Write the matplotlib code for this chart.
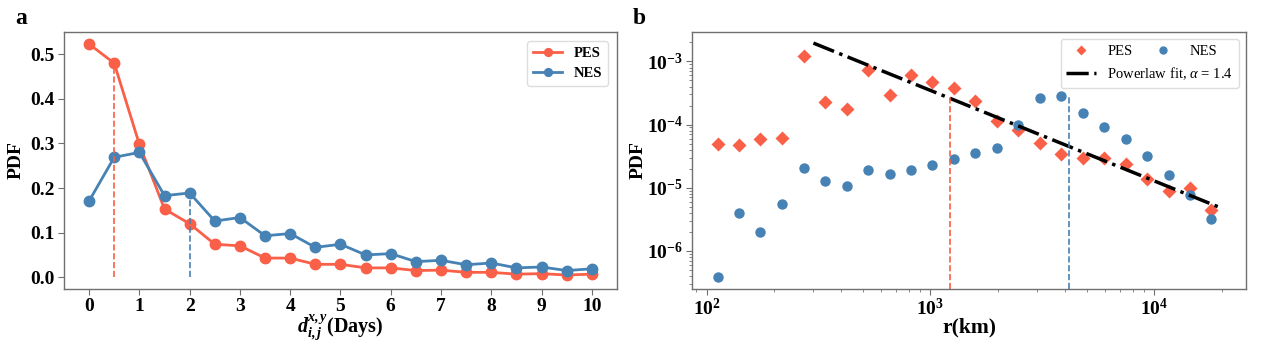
import numpy as np
import matplotlib
matplotlib.use("Agg")
import matplotlib.pyplot as plt
from matplotlib.lines import Line2D

plt.rcParams["font.family"] = ["Liberation Serif", "DejaVu Serif"]
plt.rcParams["font.weight"] = "bold"
plt.rcParams["mathtext.fontset"] = "custom"
plt.rcParams["mathtext.rm"] = "Liberation Serif:normal"
plt.rcParams["mathtext.it"] = "Liberation Serif:italic:normal"
plt.rcParams["mathtext.bf"] = "Liberation Serif:bold"
plt.rcParams["mathtext.bfit"] = "Liberation Serif:italic:bold"

RED = "#fa5f47"
BLUE = "#4682b4"
SPINE = "#707070"

# panel a: inter-event time distribution
days = [0, 0.5, 1, 1.5, 2, 2.5, 3, 3.5, 4, 4.5, 5, 5.5, 6, 6.5, 7, 7.5, 8, 8.5, 9, 9.5, 10]
pes_days = [0.523, 0.480, 0.298, 0.153, 0.120, 0.074, 0.0705, 0.043, 0.043, 0.029, 0.029,
            0.021, 0.021, 0.015, 0.016, 0.011, 0.011, 0.007, 0.008, 0.005, 0.007]
nes_days = [0.171, 0.269, 0.280, 0.183, 0.189, 0.126, 0.134, 0.093, 0.098, 0.067, 0.074,
            0.050, 0.053, 0.035, 0.038, 0.028, 0.032, 0.021, 0.023, 0.015, 0.019]
pes_mark_a = (0.5, 0.480)
nes_mark_a = (2.0, 0.189)

# panel b: distance distribution
r_km = [112, 139, 174, 218, 272, 339, 423, 527, 658, 818, 1021, 1271, 1585, 1982,
        2466, 3076, 3844, 4780, 5970, 7450, 9270, 11580, 14400, 17980]
pes_r = [4.9e-5, 4.7e-5, 5.8e-5, 6.2e-5, 1.2e-3, 2.25e-4, 1.75e-4, 7.3e-4, 2.96e-4, 6.2e-4,
         4.8e-4, 3.76e-4, 2.33e-4, 1.13e-4, 8.2e-5, 5.1e-5, 3.4e-5, 2.9e-5, 3.0e-5, 2.4e-5,
         1.35e-5, 9.0e-6, 1.0e-5, 4.4e-6]
nes_r = [3.9e-7, 4.0e-6, 2.0e-6, 5.6e-6, 2.07e-5, 1.27e-5, 1.06e-5, 1.9e-5, 1.65e-5, 1.9e-5,
         2.25e-5, 2.8e-5, 3.5e-5, 4.3e-5, 1.0e-4, 2.6e-4, 2.86e-4, 1.52e-4, 9.3e-5, 6.0e-5,
         3.2e-5, 1.57e-5, 7.7e-6, 3.2e-6]
fit_r = [300, 19800]
fit_pdf = [1.95e-3, 4.8e-6]
pes_mark_b = (1219, 2.7e-4)
nes_mark_b = (4180, 2.7e-4)

fig = plt.figure(figsize=(12.69, 3.48), dpi=100)
ax1 = fig.add_axes([0.0504, 0.17, 0.4358, 0.738])
ax2 = fig.add_axes([0.5453, 0.17, 0.4366, 0.738])

for ax in (ax1, ax2):
    for s in ax.spines.values():
        s.set_color(SPINE)
        s.set_linewidth(1.0)
    ax.tick_params(which="both", direction="out", color=SPINE, labelsize=14, pad=2.5)
    ax.tick_params(which="major", length=4)
    ax.tick_params(which="minor", length=2)

# ---- panel a
ax1.plot(days, pes_days, "-o", color=RED, lw=2, ms=7.5, label="PES")
ax1.plot(days, nes_days, "-o", color=BLUE, lw=2, ms=7.5, label="NES")
ax1.vlines(pes_mark_a[0], 0, pes_mark_a[1], colors=RED, linestyles="--", lw=1.2)
ax1.vlines(nes_mark_a[0], 0, nes_mark_a[1], colors=BLUE, linestyles="--", lw=1.2)
ax1.set_xlim(-0.5, 10.5)
ax1.set_ylim(-0.026, 0.55)
ax1.set_xticks(range(0, 11))
ax1.set_yticks([0.0, 0.1, 0.2, 0.3, 0.4, 0.5])
ax1.set_xlabel(r"$\mathbfit{d}^{\mathbfit{x,y}}_{\mathbfit{i,j}}$(Days)", fontsize=14.5,
               fontweight="bold", labelpad=-1)
ax1.set_ylabel("PDF", fontsize=14, fontweight="bold", labelpad=4)
ax1.legend(loc="upper right", prop={"size": 10.5, "weight": "bold"}, markerscale=0.75,
           framealpha=1, edgecolor="#dddddd", borderaxespad=0.6)

# ---- panel b
ax2.plot(r_km, pes_r, "D", color=RED, ms=7.5, mec="none")
ax2.plot(r_km, nes_r, "o", color=BLUE, ms=7.5, mec="none")
ax2.plot(fit_r, fit_pdf, color="black", ls="-.", lw=2.5)
ax2.set_xscale("log")
ax2.set_yscale("log")
ax2.set_xlim(86, 25700)
ax2.set_ylim(2.5e-7, 2.92e-3)
ax2.vlines(pes_mark_b[0], 2.5e-7, pes_mark_b[1], colors=RED, linestyles="--", lw=1.2)
ax2.vlines(nes_mark_b[0], 2.5e-7, nes_mark_b[1], colors=BLUE, linestyles="--", lw=1.2)
ax2.set_xlabel("r(km)", fontsize=15.5, fontweight="bold", labelpad=-1)
ax2.set_ylabel("PDF", fontsize=14, fontweight="bold", labelpad=0)

h_pes = Line2D([], [], ls="none", marker="D", color=RED, ms=5, mec="none")
h_nes = Line2D([], [], ls="none", marker="o", color=BLUE, ms=6, mec="none")
h_fit = Line2D([], [], ls="-.", color="black", lw=2.5)
leg = ax2.legend([h_pes, h_fit], ["PES", r"Powerlaw fit, $\alpha$ = $1.4$"], loc="upper right",
                 prop={"size": 10.5, "weight": "normal"}, framealpha=1, edgecolor="#dddddd",
                 borderaxespad=0.5)
ax2.add_artist(leg)
ax2.legend([h_nes], ["NES"], loc="upper left", bbox_to_anchor=(0.80, 1.0),
           prop={"size": 10.5, "weight": "normal"}, frameon=False, borderaxespad=0.5)

fig.text(0.012, 0.93, "a", fontsize=17, fontweight="bold")
fig.text(0.499, 0.93, "b", fontsize=17, fontweight="bold")

fig.savefig("out.png", dpi=100)
